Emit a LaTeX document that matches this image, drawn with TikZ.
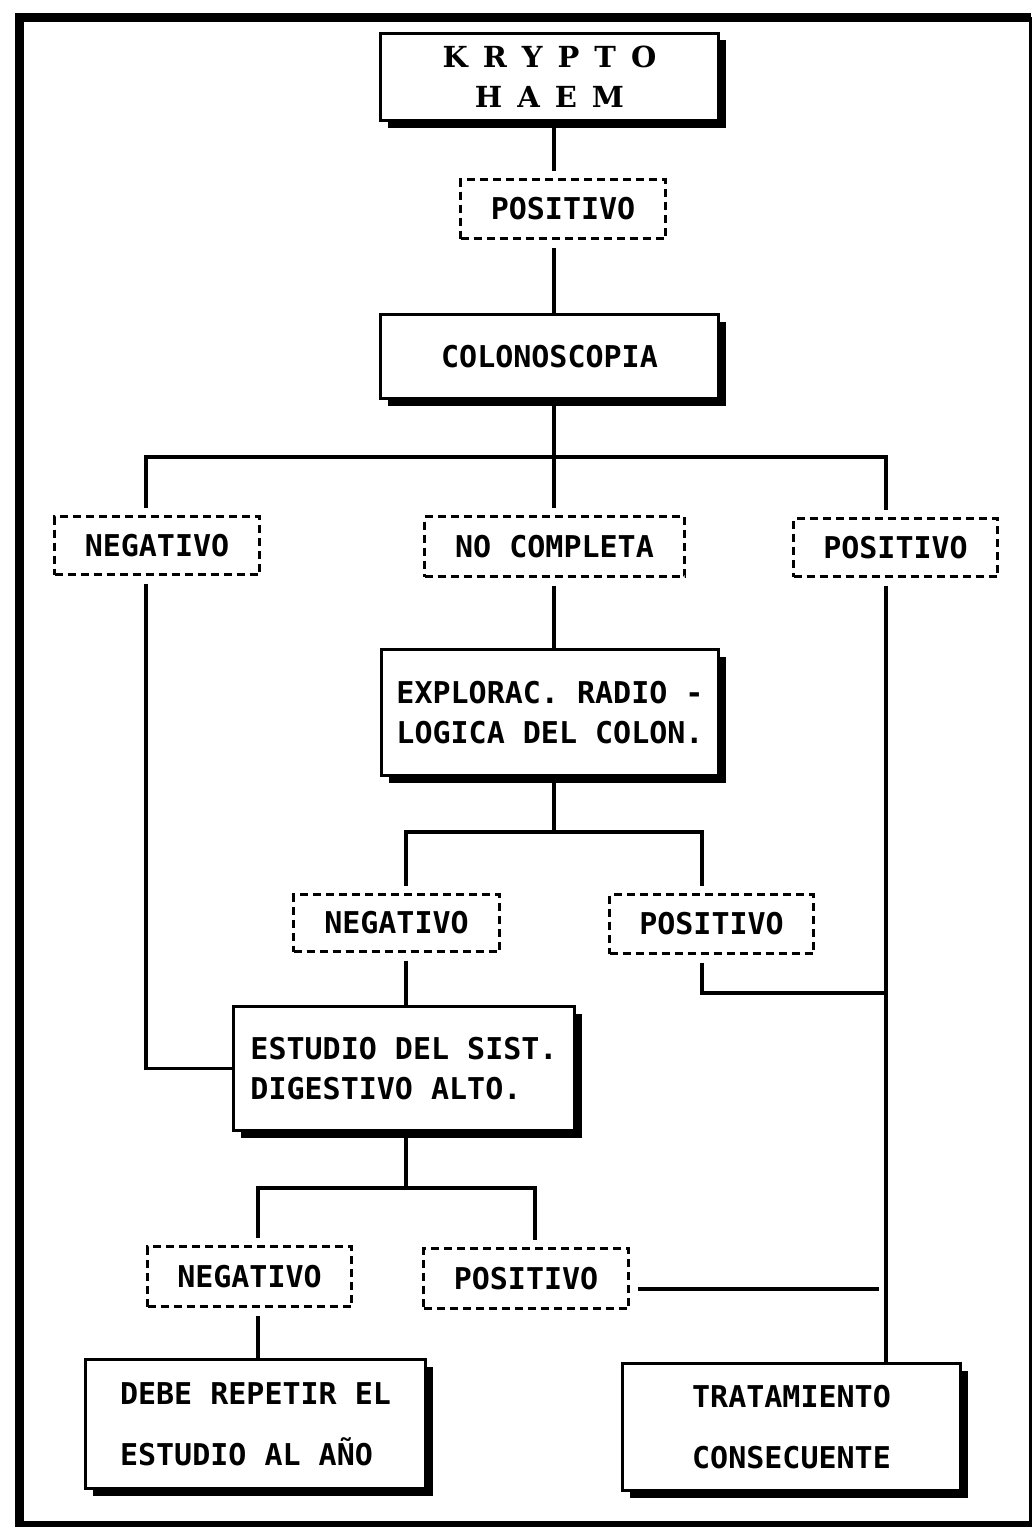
\documentclass[tikz,border=0pt]{standalone}
\usepackage{fontspec}
\setmonofont{DejaVu Sans Mono}
\newfontfamily\titlefont{DejaVu Serif}
\usetikzlibrary{shadows}
\newcommand\wsp{\kern15pt}
\tikzset{
  lbl/.style={font=\ttfamily\bfseries\fontsize{30}{40}\selectfont},
  solidbox/.style={lbl, draw, line width=3.5pt, fill=white, inner sep=0pt, align=left,
    drop shadow={shadow xshift=7pt, shadow yshift=-7pt, opacity=1, fill=black}},
  dashbox/.style={lbl, draw, line width=3.5pt, dash pattern=on 8pt off 5pt, inner sep=0pt, outer sep=9pt},
  conn/.style={line width=3.5pt, line join=miter},
}
\begin{document}
\begin{tikzpicture}[x=1pt, y=-1pt]
\useasboundingbox (0,0) rectangle (1034,1528);
% outer frame
\draw[line width=9pt] (19,1527) -- (19,17.5) -- (1031,17.5);
\draw[line width=3pt] (1030,17.5) -- (1030,1524);
\draw[line width=6pt] (16,1524) -- (1032,1524);

% solid boxes
\node[solidbox, minimum width=338pt, minimum height=87pt, align=center,
      font=\titlefont\bfseries\fontsize{29}{40}\selectfont] (krypto) at (549.5,77)
      {K\wsp R\wsp Y\wsp P\wsp T\wsp O\\H\wsp A\wsp E\wsp M};
\node[solidbox, minimum width=338pt, minimum height=84pt] (colono) at (549.5,356.5) {COLONOSCOPIA};
\node[solidbox, minimum width=337pt, minimum height=126pt] (explor) at (550,712.5)
      {EXPLORAC. RADIO -\\LOGICA DEL COLON.};
\node[solidbox, minimum width=341pt, minimum height=124pt] (estudio) at (404,1068.5)
      {ESTUDIO DEL SIST.\\DIGESTIVO ALTO.};
\node[solidbox, minimum width=340pt, minimum height=129pt, font=\ttfamily\bfseries\fontsize{30}{61}\selectfont] (debe) at (255.5,1424)
      {DEBE REPETIR EL\\ESTUDIO AL AÑO};
\node[solidbox, minimum width=338pt, minimum height=127pt, align=center, font=\ttfamily\bfseries\fontsize{30}{61}\selectfont] (trat) at (791.5,1427)
      {TRATAMIENTO\\CONSECUENTE};

% dashed boxes
\node[dashbox, minimum width=205pt, minimum height=59pt] (pos1) at (563,209) {POSITIVO};
\node[dashbox, minimum width=205pt, minimum height=58pt] (neg1) at (157,545.5) {NEGATIVO};
\node[dashbox, minimum width=260pt, minimum height=60pt] (nocomp) at (554.5,546.5) {NO COMPLETA};
\node[dashbox, minimum width=204pt, minimum height=58pt] (pos2) at (895.5,547.5) {POSITIVO};
\node[dashbox, minimum width=206pt, minimum height=57pt] (neg2) at (396.5,923) {NEGATIVO};
\node[dashbox, minimum width=204pt, minimum height=59pt] (pos3) at (711.5,924) {POSITIVO};
\node[dashbox, minimum width=204pt, minimum height=60pt] (neg3) at (249.5,1276.5) {NEGATIVO};
\node[dashbox, minimum width=205pt, minimum height=60pt] (pos4) at (526,1278.5) {POSITIVO};

% junction coordinates
\coordinate (j1) at (554,457);
\coordinate (j1L) at (146,457);
\coordinate (j1R) at (886,457);
\coordinate (j2) at (554,832);
\coordinate (j2L) at (406,832);
\coordinate (j2R) at (702,832);
\coordinate (j3) at (886,993);
\coordinate (j5) at (406,1188);
\coordinate (j5L) at (258,1188);
\coordinate (j5R) at (535,1188);
\coordinate (e6) at (879,1289);

% connectors
\draw[conn] (krypto.south -| j1) -- (pos1.north -| j1);
\draw[conn] (pos1.south -| j1) -- (colono.north -| j1);
\draw[conn] (colono.south -| j1) -- (j1);
\draw[conn] (neg1.north -| j1L) -- (j1L) -- (j1R) -- (pos2.north -| j1R);
\draw[conn] (j1) -- (nocomp.north -| j1);
\draw[conn] (nocomp.south -| j1) -- (explor.north -| j1);
\draw[conn] (explor.south -| j2) -- (j2);
\draw[conn] (neg2.north -| j2L) -- (j2L) -- (j2R) -- (pos3.north -| j2R);
\draw[conn] (pos3.south -| j2R) |- (j3);
\draw[conn] (pos2.south -| j1R) -- (trat.north -| j1R);
\draw[conn] (neg1.south -| j1L) |- (estudio.west);
\draw[conn] (neg2.south -| j2L) -- (estudio.north -| j2L);
\draw[conn] (estudio.south -| j5) -- (j5);
\draw[conn] (neg3.north -| j5L) -- (j5L) -- (j5R) -- (pos4.north -| j5R);
\draw[conn] (neg3.south -| j5L) -- (debe.north -| j5L);
\draw[conn] (pos4.east |- e6) -- (e6);
\end{tikzpicture}
\end{document}
